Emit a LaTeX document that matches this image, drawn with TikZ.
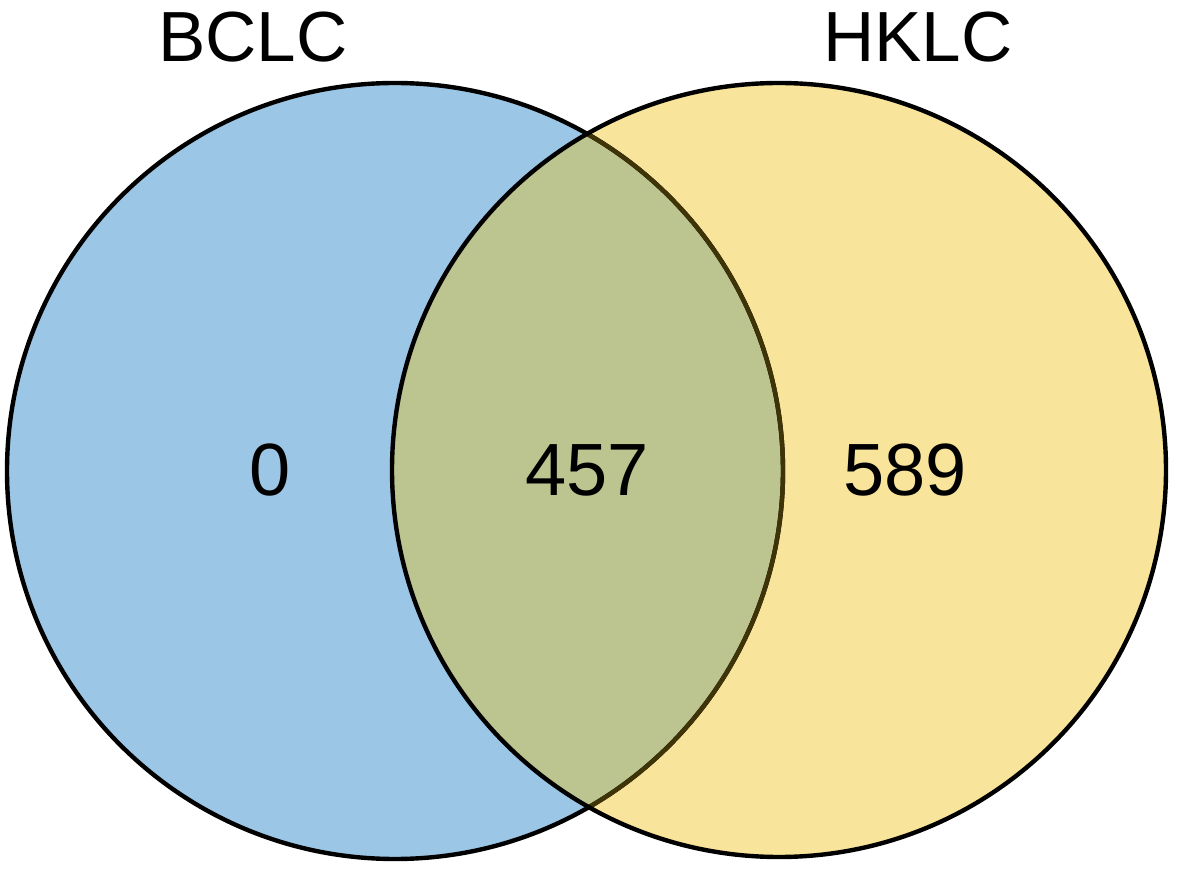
\documentclass[tikz,border=0pt]{standalone}
\usepackage{fontspec}
\setmainfont{Liberation Sans}
\definecolor{vblue}{RGB}{155,198,230}
\definecolor{vyellow}{RGB}{248,228,154}
\definecolor{voverlap}{RGB}{188,196,143}
\definecolor{vline}{RGB}{62,52,8}
\tikzset{
  lbl/.style={anchor=base,inner sep=0pt,font=\fontsize{71}{75}\selectfont},
  num/.style={anchor=base,inner sep=0pt,font=\fontsize{74}{78}\selectfont},
  ring/.style={line width=4.4pt}
}
\begin{document}
\begin{tikzpicture}[x=1pt,y=1pt]
\useasboundingbox (0,0) rectangle (1178,868);
\coordinate (c1) at (395,397);
\coordinate (c2) at (779,398);
\fill[vblue] (c1) circle (388);
\fill[vyellow] (c2) circle (387);
\begin{scope}
  \clip (c1) circle (388);
  \fill[voverlap] (c2) circle (387);
\end{scope}
\draw[ring,black] (c1) circle (388);
\begin{scope}
  \clip (c2) circle (387);
  \draw[ring,vline] (c1) circle (388);
\end{scope}
\draw[ring,black] (c2) circle (387);
\node[lbl] (bclc) at (253,806) {BCLC};
\node[lbl] (hklc) at (918,806) {HKLC};
\node[num] (n0) at (270,372) {0};
\node[num] (n457) at (587,372) {457};
\node[num] (n589) at (905,372) {589};
\end{tikzpicture}
\end{document}
